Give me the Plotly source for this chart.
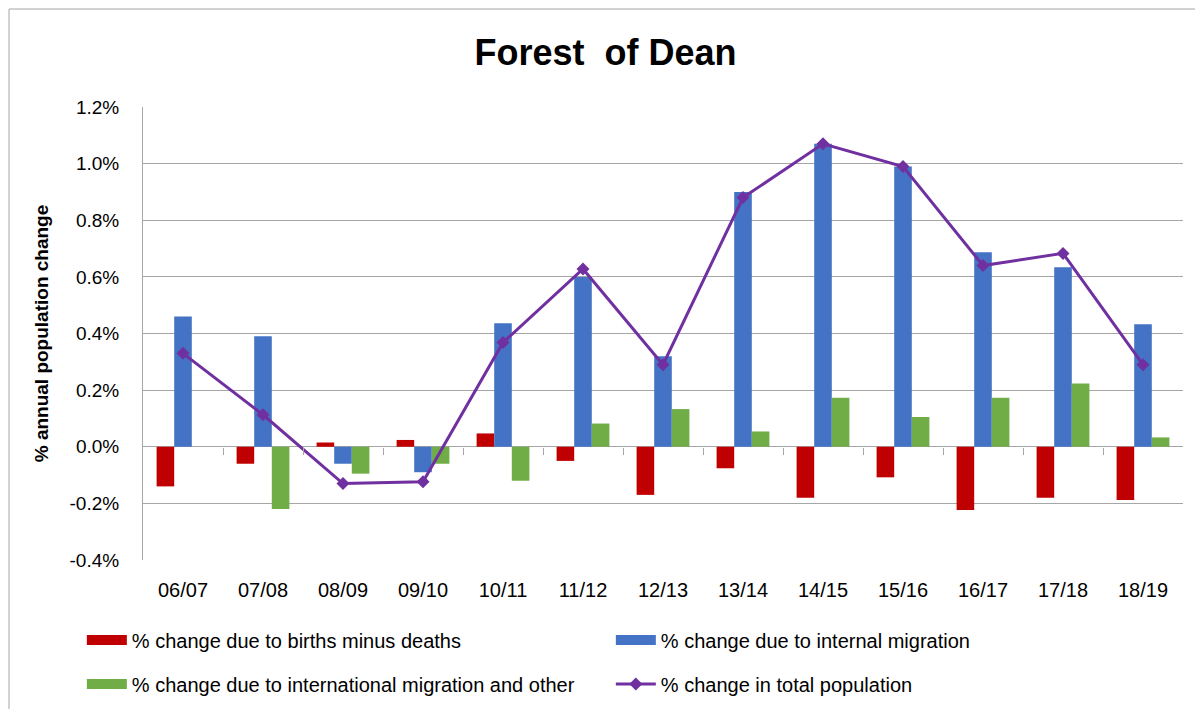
import plotly.graph_objects as go

# Forest of Dean - components of annual population change (%)
years = ["06/07", "07/08", "08/09", "09/10", "10/11", "11/12", "12/13",
         "13/14", "14/15", "15/16", "16/17", "17/18", "18/19"]
births_minus_deaths = [-0.14, -0.06, 0.015, 0.024, 0.047, -0.05, -0.17,
                       -0.076, -0.18, -0.108, -0.223, -0.18, -0.188]
internal_migration = [0.46, 0.39, -0.06, -0.09, 0.436, 0.60, 0.32,
                      0.90, 1.07, 0.99, 0.687, 0.634, 0.433]
international_other = [0.0, -0.22, -0.095, -0.06, -0.12, 0.082, 0.133,
                       0.054, 0.173, 0.105, 0.173, 0.223, 0.033]
total_change = [0.33, 0.113, -0.13, -0.124, 0.368, 0.628, 0.29,
                0.88, 1.07, 0.99, 0.64, 0.683, 0.29]

ytick_vals = [-0.4, -0.2, 0.0, 0.2, 0.4, 0.6, 0.8, 1.0, 1.2]
ytick_text = ["-0.4%", "-0.2%", "0.0%", "0.2%", "0.4%", "0.6%", "0.8%", "1.0%", "1.2%"]

names = ["% change due to births minus deaths",
         "% change due to internal migration",
         "% change due to international migration and other",
         "% change in total population"]
colours = ["#C00000", "#4472C4", "#70AD47", "#7030A0"]

FONT = "Liberation Sans, Arial, sans-serif"
GRID = "#A6A6A6"
W, H = 1195, 701
ML, MR, MT, MB = 135, 20, 99, 149
PW, PH = W - ML - MR, H - MT - MB
YMIN, YMAX = -0.4, 1.2

fig = go.Figure()
for vals, name, col in zip([births_minus_deaths, internal_migration, international_other],
                           names[:3], colours[:3]):
    fig.add_trace(go.Bar(x=years, y=vals, name=name, marker=dict(color=col, line_width=0),
                         showlegend=False))
fig.add_trace(go.Scatter(x=years, y=total_change, name=names[3], showlegend=False,
                         mode="lines+markers",
                         line=dict(color=colours[3], width=3),
                         marker=dict(symbol="diamond", size=10, color=colours[3])))
# empty trace so the tick-mark axis on the zero line gets drawn
fig.add_trace(go.Scatter(x=[None], y=[None], xaxis="x2", showlegend=False, hoverinfo="skip"))

# legend entries: wide blocks for the bars, two rows like the original
for i, (name, col) in enumerate(zip(names, colours)):
    lg = "legend" if i < 2 else "legend2"
    if i < 3:
        fig.add_trace(go.Scatter(x=[None], y=[None], name=name, mode="lines",
                                 line=dict(color=col, width=14), legend=lg))
    else:
        fig.add_trace(go.Scatter(x=[None], y=[None], name=name, mode="lines+markers",
                                 line=dict(color=col, width=3),
                                 marker=dict(symbol="diamond", size=10, color=col), legend=lg))

leg = dict(orientation="h", x=-0.054 - 5 / PW, xanchor="left", yanchor="middle",
           entrywidth=474, itemwidth=40, font=dict(size=20), bgcolor="rgba(0,0,0,0)")

n = len(years)
fig.update_layout(
    width=W, height=H,
    paper_bgcolor="white", plot_bgcolor="white",
    font=dict(family=FONT, size=16, color="black"),
    title=dict(text="<b>Forest  of Dean</b>", x=0.5, xanchor="center",
               y=1 - 44 / H, yanchor="middle", font=dict(size=36)),
    margin=dict(l=ML, r=MR, t=MT, b=MB, autoexpand=False),
    barmode="group", bargap=0.34, bargroupgap=0,
    legend=dict(leg, y=-80 / PH),
    legend2=dict(leg, y=-124 / PH),
    # category tick marks sitting on the zero line
    xaxis2=dict(overlaying="x", anchor="free", position=(0 - YMIN) / (YMAX - YMIN),
                type="linear", range=[-0.5, n - 0.5],
                tickvals=[i + 0.5 for i in range(n - 1)],
                ticks="outside", ticklen=7, tickcolor=GRID, showticklabels=False,
                showgrid=False, showline=False, zeroline=False, automargin=False),
    shapes=[
        dict(type="line", xref="paper", yref="paper", x0=-(ML - 1) / PW, x1=-(ML - 1) / PW,
             y0=-MB / PH, y1=1 + (MT - 1) / PH, line=dict(color=GRID, width=1)),
        dict(type="line", xref="paper", yref="paper", x0=-(ML - 1) / PW, x1=1 + MR / PW,
             y0=1 + (MT - 1) / PH, y1=1 + (MT - 1) / PH, line=dict(color=GRID, width=1)),
    ],
)
fig.update_layout(xaxis=dict(range=[-0.5, n - 0.5], showgrid=False, showline=False, ticks="",
                             tickfont=dict(size=20), ticklabelstandoff=16, automargin=False))
fig.update_yaxes(range=[YMIN, YMAX], tickvals=ytick_vals, ticktext=ytick_text,
                 showgrid=True, gridcolor=GRID, gridwidth=1,
                 zeroline=True, zerolinecolor=GRID, zerolinewidth=1,
                 showline=True, linecolor=GRID, linewidth=1,
                 ticks="", tickfont=dict(size=19), ticklabelstandoff=19, automargin=False,
                 title=dict(text="<b>% annual population change</b>", standoff=15,
                            font=dict(size=19)))

fig.write_html("out.html")
